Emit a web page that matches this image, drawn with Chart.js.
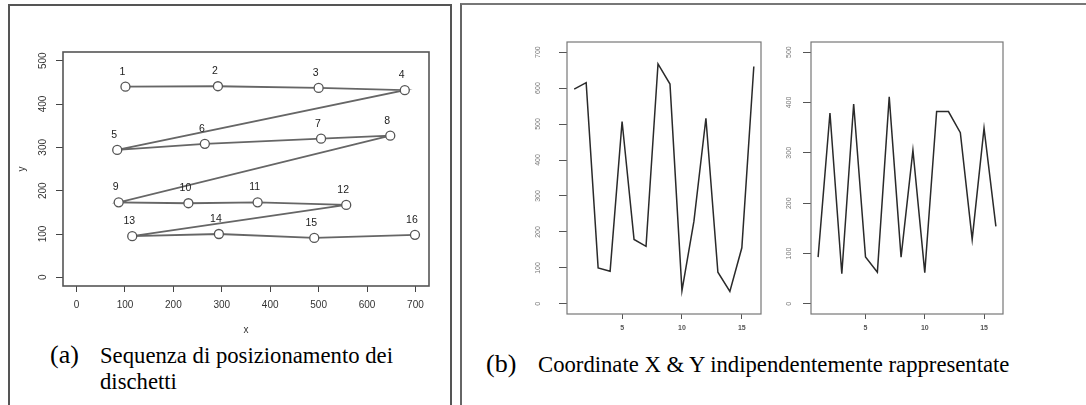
<!DOCTYPE html>
<html>
<head>
<meta charset="utf-8">
<script src="https://cdn.jsdelivr.net/npm/chart.js@4/dist/chart.umd.min.js"></script>
<style>
body{margin:0;width:1086px;height:405px;background:#fff;position:relative;overflow:hidden}
.frame{position:absolute;box-sizing:border-box}
#fa{left:8px;top:4px;width:444px;height:420px;border:2px solid #555;border-bottom:none}
#fb{left:460px;top:3px;width:700px;height:420px;border-left:2px solid #666;border-top:2px solid #777}
canvas{position:absolute}
.cap{position:absolute;font-family:"Liberation Serif","Times New Roman",serif;color:#000;white-space:nowrap}
.lab{font-size:26px;line-height:26px}
.txt{font-size:22.7px;line-height:26px}
</style>
</head>
<body>
<div class="frame" id="fa"></div>
<div class="frame" id="fb"></div>
<canvas id="ca" width="430" height="300" style="left:10px;top:40px"></canvas>
<canvas id="cb1" width="300" height="310" style="left:470px;top:30px"></canvas>
<canvas id="cb2" width="300" height="310" style="left:770px;top:30px"></canvas>
<div class="cap lab" style="left:50px;top:342px">(a)</div>
<div class="cap txt" style="left:100px;top:343px">Sequenza di posizionamento dei<br>dischetti</div>
<div class="cap lab" style="left:486px;top:351px">(b)</div>
<div class="cap txt" style="left:538px;top:352px">Coordinate X &amp; Y indipendentemente rappresentate</div>
<script>
// posizioni dei dischetti (pannello a)
const discX = [101, 292, 500, 678, 84, 265, 505, 648, 87, 231, 374, 557, 115, 294, 491, 699];
const discY = [440, 441, 437, 432, 294, 308, 320, 327, 173, 171, 173, 167, 95, 100, 91, 98];
const discLabels = ['1','2','3','4','5','6','7','8','9','10','11','12','13','14','15','16'];

// pannello b
const steps = [1, 2, 3, 4, 5, 6, 7, 8, 9, 10, 11, 12, 13, 14, 15, 16];
const coordX = [597, 615, 100, 91, 507, 179, 160, 667, 611, 37, 230, 516, 88, 35, 156, 660];
const coordY = [93, 379, 60, 397, 93, 63, 411, 93, 305, 62, 382, 382, 340, 128, 349, 154];

const sans = 'Liberation Sans, Arial, sans-serif';

// box like R plot + rotated y tick labels
const rBox = {
    id: 'rBox',
    afterDraw(chart, args, o) {
        const ctx = chart.ctx, a = chart.chartArea;
        ctx.save();
        ctx.strokeStyle = o.color;
        ctx.lineWidth = o.width;
        ctx.strokeRect(a.left, a.top, a.right - a.left, a.bottom - a.top);
        const ys = chart.scales.y;
        ctx.fillStyle = o.labelColor;
        ctx.font = o.font;
        ctx.textAlign = 'center';
        ctx.textBaseline = 'middle';
        ys.ticks.forEach(t => {
            const py = ys.getPixelForValue(t.value);
            ctx.save();
            ctx.translate(a.left - o.labelGap, py);
            ctx.rotate(-Math.PI / 2);
            ctx.fillText(t.label, 0, 0);
            ctx.restore();
        });
        ctx.restore();
    }
};

const pointNumbers = {
    id: 'pointNumbers',
    afterDatasetsDraw(chart) {
        const ctx = chart.ctx;
        const meta = chart.getDatasetMeta(0);
        ctx.save();
        ctx.font = '10.5px ' + sans;
        ctx.fillStyle = '#222';
        ctx.textAlign = 'center';
        ctx.textBaseline = 'alphabetic';
        meta.data.forEach((p, i) => {
            ctx.fillText(discLabels[i], p.x - 3, p.y - 12);
        });
        ctx.restore();
    }
};

function axis(min, max, step, w, h, tl, opt) {
    return {
        type: 'linear', min: min, max: max,
        ticks: Object.assign({stepSize: step, includeBounds: false}, opt.ticks),
        grid: {drawOnChartArea: false, drawTicks: true, tickLength: tl, color: opt.tickColor},
        border: {display: false},
        title: opt.title || {display: false},
        afterFit: s => { if (w) s.width = w; if (h) s.height = h; }
    };
}

Chart.defaults.font.family = sans;

new Chart(document.getElementById('ca'), {
    type: 'scatter',
    data: {
        datasets: [{
            data: discX.map((x, i) => ({x: x, y: discY[i]})),
            showLine: true,
            borderColor: '#666',
            borderWidth: 1.8,
            pointRadius: 4.5,
            pointBackgroundColor: '#fff',
            pointBorderColor: '#555',
            pointBorderWidth: 1.3
        }]
    },
    options: {
        responsive: false, animation: false, devicePixelRatio: 1,
        layout: {padding: {top: 12, right: 11, left: 0, bottom: 0}},
        plugins: {
            legend: {display: false}, tooltip: {enabled: false},
            rBox: {color: '#555', width: 1.6, labelColor: '#333', font: '10px ' + sans, labelGap: 20}
        },
        scales: {
            x: axis(-28, 728, 100, 0, 54, 6, {
                tickColor: '#444',
                ticks: {color: '#333', font: {size: 10}, padding: 7, maxRotation: 0},
                title: {display: true, text: 'x', color: '#333', font: {size: 10}}
            }),
            y: axis(-20, 520, 100, 53, 0, 7, {
                tickColor: '#444',
                ticks: {display: false},
                title: {display: true, text: 'y', color: '#333', font: {size: 10}, padding: {top: 6, bottom: 4}}
            })
        }
    },
    plugins: [rBox, pointNumbers]
});

function lineChart(id, values, yMax, padRight, yW, gap) {
    new Chart(document.getElementById(id), {
        type: 'line',
        data: {
            datasets: [{
                data: steps.map((s, i) => ({x: s, y: values[i]})),
                borderColor: '#2a2a2a',
                borderWidth: 1.5,
                pointRadius: 0,
                tension: 0
            }]
        },
        options: {
            responsive: false, animation: false, devicePixelRatio: 1,
            layout: {padding: {top: 12, right: padRight, left: 0, bottom: 0}},
            plugins: {
                legend: {display: false}, tooltip: {enabled: false},
                rBox: {color: '#777', width: 1.2, labelColor: '#777', font: '7px ' + sans, labelGap: gap}
            },
            scales: {
                x: axis(0.4, 16.6, 5, 0, 26, 5, {
                    tickColor: '#555',
                    ticks: {color: '#555', font: {size: 7, weight: 'bold'}, padding: 5, maxRotation: 0}
                }),
                y: axis(-yMax * 0.04, yMax * 1.04, 100, yW, 0, 8, {
                    tickColor: '#555',
                    ticks: {display: false}
                })
            }
        },
        plugins: [rBox]
    });
}

lineChart('cb1', coordX, 700, 9, 97, 29);
lineChart('cb2', coordY, 500, 67, 41, 22);
</script>
</body>
</html>
